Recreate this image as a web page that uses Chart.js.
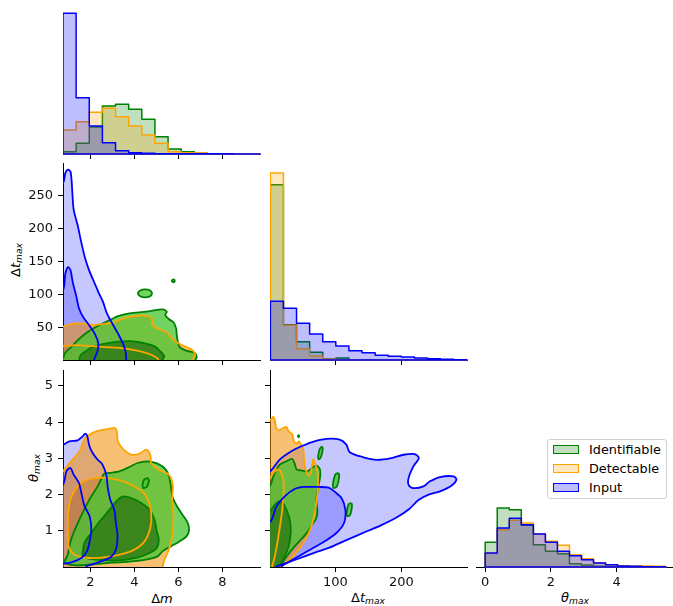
<!DOCTYPE html>
<html lang="en">
<head>
<meta charset="UTF-8">
<title>Corner plot</title>
<script src="https://cdn.jsdelivr.net/npm/chart.js"></script>
<style>
  html, body { margin: 0; padding: 0; background: #fff; }
  #fig { position: relative; width: 673px; height: 606px; overflow: hidden; font-family: 'DejaVu Sans', sans-serif; }
  #fig canvas { position: absolute; }
  .lbl { position: absolute; font-size: 13px; color: #000; white-space: nowrap; transform: translate(-50%, -50%); }
  .lbl.rot { transform: translate(-50%, -50%) rotate(-90deg); }
  .lbl sub { font-size: 70%; vertical-align: -0.3em; }
  #legend { position: absolute; left: 547px; top: 439px; width: 120px; height: 60px; box-sizing: border-box;
            border: 1px solid #d0d0d0; border-radius: 3px; background: rgba(255,255,255,0.8); font-size: 12.8px; }
  #legend .row { position: absolute; left: 0; height: 16px; line-height: 16px; }
  #legend .patch { position: absolute; left: 5px; top: 3px; width: 26px; height: 9px; box-sizing: border-box; border: 1.5px solid; }
  #legend .txt { position: absolute; left: 41px; top: 0; }
</style>
</head>
<body>
<div id="fig">
  <div class="lbl" style="left:162px; top:598px">Δ<i>m</i></div>
  <div class="lbl" style="left:368px; top:598px">Δ<i>t</i><sub><i>max</i></sub></div>
  <div class="lbl" style="left:575px; top:598px"><i>θ</i><sub><i>max</i></sub></div>
  <div class="lbl rot" style="left:16px; top:260px">Δ<i>t</i><sub><i>max</i></sub></div>
  <div class="lbl rot" style="left:34px; top:468px"><i>θ</i><sub><i>max</i></sub></div>
  <div id="legend"></div>
</div>

<script>
// ---- data ----
const seriesNames = ['Identifiable', 'Detectable', 'Input'];

// axis limits
const dmLimits = [0.757, 9.71];
const dtLimits = [1, 299.5];
const thetaLimits = [0, 5.44];
const thetaHistLimits = [-0.28, 5.72];

// tick values
const dmTicks = [2, 4, 6, 8];
const dtTicks = [50, 100, 150, 200, 250];
const dtXTicks = [100, 200];
const thetaTicks = [1, 2, 3, 4, 5];
const thetaHistTicks = [0, 2, 4];

// histogram bins: first edge, bin width (15 bins each)
const dmBins = [0.757, 0.5969];
const dtBins = [1.5, 19.85];
const thetaBins = [0, 0.3667];

// histogram heights (shared diagonal y scale)
const dmHistIdentifiable = [2.3, 10.7, 27, 48, 49.7, 44.7, 34.7, 17.3, 5, 2.3, 0.7, 0.2, 0, 0, 0];
const dmHistDetectable   = [24, 32.3, 41.7, 45.7, 37.3, 28, 19, 10.7, 2.3, 1.3, 1, 0.3, 0, 0, 0];
const dmHistInput        = [140.7, 56.3, 28, 11.3, 3.3, 1.3, 0.7, 0.3, 0.3, 0.3, 0.2, 0.2, 0.2, 0.1, 0.1];

const dtHistIdentifiable = [175.3, 35.3, 18.3, 7.7, 1.3, 2, 0.3, 0.2, 0, 0, 0, 0, 0, 0, 0];
const dtHistDetectable   = [187, 34.7, 11.3, 4, 1, 0.3, 0.3, 0.1, 0, 0, 0, 0, 0, 0, 0];
const dtHistInput        = [58.7, 51.7, 36.7, 26, 18.3, 14, 9.3, 7.3, 4.7, 3.7, 3, 2, 1.3, 0.7, 0.3];

const thetaHistIdentifiable = [24.7, 59, 57.3, 41.7, 22.3, 15.7, 13.3, 3.3, 2, 0.7, 0.3, 0, 0, 0, 0];
const thetaHistDetectable   = [14, 37.3, 46.7, 44, 33.3, 25.7, 21.7, 12.3, 8.3, 4.3, 2.3, 1.3, 1, 1, 0.7];
const thetaHistInput        = [14, 39, 48.7, 42.3, 33, 24.7, 15.7, 11.3, 7.3, 4, 2.3, 1, 0.7, 0.3, 0.3];

// KDE contours, Δm vs Δt_max
const dmDtInputOuter = [[0.4,-30],[0.4,269],[0.757,269.3],[0.866,284.5],[0.984,289.6],[1.106,285.5],[1.183,254.1],[1.242,228.8],[1.437,203.4],[1.546,185.7],[1.741,157.8],[1.936,137.6],[2.195,117.3],[2.39,102.1],[2.571,89.4],[2.752,71.7],[2.997,56.5],[3.251,41.3],[3.478,26.1],[3.601,13.4],[3.632,1],[3.64,-30],[0.4,-30]];
const dmDtInputInner = [[0.4,-30],[0.4,107],[0.757,107.2],[0.866,132.5],[0.984,141.7],[1.093,137.6],[1.21,117.3],[1.365,97],[1.483,79.3],[1.664,66.6],[1.936,54],[2.195,41.3],[2.362,26.1],[2.317,13.4],[2.172,1],[2.16,-30],[0.4,-30]];
const dmDtDetectableOuter = [[0.4,-30],[0.4,51],[0.757,51.5],[1.047,55],[1.501,56.5],[2.104,54],[2.558,55.5],[3.011,57.5],[3.387,62.6],[3.841,66.6],[4.371,68.1],[4.702,66.6],[4.825,61.6],[4.793,55.5],[5.052,48.9],[5.505,42.3],[5.7,33.7],[5.882,28.6],[6.263,22],[6.639,16],[6.762,8.4],[6.639,1],[6.6,-30],[0.4,-30]];
const dmDtDetectableInner = [[0.4,-30],[0.4,22],[0.757,22],[1.347,23.6],[2.104,22],[2.707,20.5],[3.387,19],[3.995,16],[4.521,11.9],[4.902,6.8],[5.097,1],[5.1,-30],[0.4,-30]];
const dmDtIdentifiableOuter = [[0.4,-30],[0.4,3],[0.757,3.3],[0.834,10.9],[1.138,21],[1.514,33.7],[1.891,43.8],[2.421,54],[2.952,62.6],[3.251,67.6],[3.782,71.7],[4.539,74.2],[5.292,77.8],[5.474,74.2],[5.401,69.2],[5.564,63.1],[5.777,58.1],[5.9,48.9],[5.927,38.8],[6.049,21],[6.381,14.9],[6.73,11.9],[6.834,5.8],[6.775,1],[6.77,-30],[0.4,-30]];
const dmDtIdentifiableInner = [[1.48,-30],[1.501,1.8],[1.573,8.4],[1.8,14.4],[2.027,19.5],[2.557,25.1],[3.161,28.6],[3.841,29.6],[4.372,27.1],[4.902,22],[5.201,13.4],[5.356,6.8],[5.278,1],[5.25,-30],[1.48,-30]];
const dmDtIdentifiableIsland1 = [[4.82,102],[4.72,106.3],[4.49,108.1],[4.26,106.3],[4.16,102],[4.26,97.7],[4.49,95.9],[4.72,97.7],[4.82,102]];
const dmDtIdentifiableIsland2 = [[5.86,121],[5.78,123.2],[5.7,121],[5.78,118.8],[5.86,121]];

// KDE contours, Δm vs θ_max
const dmThetaInputOuter = [[0.4,-0.5],[0.4,3.38],[0.757,3.38],[1.045,3.471],[1.423,3.498],[1.65,3.609],[1.771,3.682],[1.862,3.609],[1.953,3.351],[2.104,3.148],[2.33,2.964],[2.527,2.853],[2.663,2.668],[2.739,2.503],[2.784,2.227],[2.905,1.859],[3.087,1.583],[3.161,1.215],[3.237,0.846],[3.161,0.478],[2.935,0.276],[2.481,0.155],[2.028,0.064],[1.801,0],[1.75,-0.5],[0.4,-0.5]];
const dmThetaInputInner = [[0.4,-0.5],[0.4,2.27],[0.757,2.273],[0.911,2.641],[1.093,2.735],[1.242,2.55],[1.483,2.32],[1.591,2.044],[1.741,1.674],[1.967,1.398],[2.045,1.03],[1.967,0.707],[1.846,0.431],[1.591,0.249],[1.138,0.127],[0.757,0.091],[0.4,0.09],[0.4,-0.5]];
const dmThetaDetectableOuter = [[0.4,-0.5],[0.4,2.62],[0.757,2.65],[0.821,2.688],[1.12,2.917],[1.501,3.193],[1.773,3.564],[2.272,3.746],[2.875,3.82],[3.102,3.84],[3.206,3.746],[3.251,3.47],[3.51,3.24],[3.859,3.102],[4.235,3.13],[4.539,3.24],[4.721,3.102],[4.766,2.873],[5.111,2.688],[5.564,2.55],[5.746,2.273],[5.718,1.859],[5.777,1.398],[5.718,0.845],[5.564,0.478],[5.369,0.202],[5.292,0],[5.28,-0.5],[0.4,-0.5]];
const dmThetaDetectableInner = [[0.984,0.754],[0.984,1.398],[1.093,1.859],[1.483,2.273],[2.045,2.439],[2.725,2.459],[3.406,2.384],[3.932,2.246],[4.358,2.088],[4.612,1.859],[4.766,1.492],[4.721,1.077],[4.462,0.707],[3.932,0.459],[2.952,0.293],[1.968,0.249],[1.288,0.34],[1.029,0.525],[0.984,0.754]];
const dmThetaIdentifiableOuter = [[0.819,0.156],[0.97,0.34],[1.121,0.754],[1.499,1.307],[1.953,1.859],[2.331,2.227],[2.633,2.577],[2.86,2.596],[3.313,2.642],[3.767,2.761],[4.145,2.872],[4.599,2.918],[5.052,2.854],[5.43,2.688],[5.581,2.485],[5.657,2.246],[5.733,1.933],[5.959,1.657],[6.186,1.445],[6.413,1.233],[6.489,1.03],[6.368,0.846],[6.035,0.699],[5.657,0.57],[5.279,0.432],[5.052,0.294],[4.523,0.202],[3.767,0.146],[3.011,0.119],[2.255,0.082],[1.348,0.045],[0.894,0.091],[0.819,0.156]];
const dmThetaIdentifiableInner = [[1.637,0.34],[1.741,0.68],[2.045,0.939],[2.344,1.196],[2.875,1.583],[3.251,1.859],[3.51,1.95],[3.859,1.906],[4.312,1.768],[4.689,1.583],[4.916,1.307],[5.02,0.983],[5.111,0.754],[5.02,0.525],[4.689,0.387],[4.086,0.249],[3.179,0.174],[2.272,0.202],[1.818,0.249],[1.637,0.34]];
const dmThetaIdentifiableIsland = [[4.62,2.46],[4.66,2.38],[4.57,2.22],[4.42,2.18],[4.37,2.26],[4.45,2.42],[4.62,2.46]];

// KDE contours, Δt_max vs θ_max
const dtThetaInputOuter = [[-10,-0.5],[-10,2.64],[1,2.64],[15.7,2.965],[33.4,3.195],[48.5,3.333],[63.7,3.444],[86.4,3.536],[106.6,3.517],[116.7,3.379],[121.8,3.167],[142.5,3.03],[162.7,2.96],[182.9,3.0],[203.1,3.1],[220,3.12],[226.5,3.01],[218.3,2.78],[211,2.46],[211,2.27],[218.3,2.18],[233.4,2.227],[243.5,2.366],[258.7,2.485],[278.9,2.504],[283.5,2.412],[276.3,2.25],[258.7,2.089],[241.4,2.0],[226,1.85],[212,1.6],[194,1.38],[169,1.15],[149.5,1.0],[114,0.72],[92,0.54],[74,0.43],[39.4,0.2],[16.7,0.05],[10.2,0],[8,-0.5],[-10,-0.5]];
const dtThetaInputInner = [[-10,-0.5],[-10,1.25],[2.07,1.261],[10.7,1.675],[23.3,1.952],[38.4,2.154],[53.6,2.21],[73.8,2.21],[89.9,2.191],[99,2.08],[109.5,1.9],[115.2,1.583],[113.2,1.215],[101.6,0.939],[83.9,0.709],[63.7,0.497],[46,0.313],[28.3,0.129],[18.2,0],[16,-0.5],[-10,-0.5]];
const dtThetaDetectableOuter = [[-10,-0.5],[-10,4.05],[1,4.07],[3.08,4.088],[5.6,4.143],[8.1,4.07],[10.7,3.839],[14.7,3.775],[20.8,3.839],[25.8,3.867],[29.3,3.747],[34.4,3.674],[37.4,3.471],[40.9,3.407],[44.5,3.471],[48.5,3.379],[51.6,3.241],[52.6,2.965],[54.6,2.734],[58.6,2.523],[62.7,2.578],[64.7,2.826],[66.7,2.983],[69.2,2.854],[72.8,2.642],[73.8,2.228],[71.8,1.86],[68.7,1.491],[63.7,1.123],[54.6,0.755],[43.5,0.46],[33.4,0.248],[23.3,0.083],[17.2,0],[16,-0.5],[-10,-0.5]];
const dtThetaDetectableInner = [[-10,-0.5],[-10,2.45],[1,2.46],[2.1,2.486],[8.1,2.642],[14.2,2.688],[19.2,2.55],[21.8,2.32],[21.3,1.952],[19.2,1.537],[15.7,1.077],[11.7,0.617],[7.1,0.202],[4.1,0],[3.5,-0.5],[-10,-0.5]];
const dtThetaIdentifiableOuter = [[-10,-0.5],[-10,2.2],[1,2.25],[7.1,2.55],[15.7,2.826],[25.8,2.919],[34.4,2.983],[38.4,2.854],[41.5,2.688],[48.5,2.67],[57.6,2.642],[64.7,2.734],[71.3,2.799],[76.8,2.688],[76.8,2.458],[73.8,2.182],[71.3,1.86],[72.8,1.537],[71.3,1.353],[64.7,1.169],[57.6,0.957],[48.5,0.773],[38.4,0.571],[29.3,0.368],[22.3,0.184],[17.2,0.018],[16,-0.5],[-10,-0.5]];
const dtThetaIdentifiableInner = [[-10,-0.5],[-10,1.55],[1,1.55],[7.1,1.694],[14.2,1.814],[20.8,1.768],[25.8,1.583],[30.9,1.307],[32.4,0.939],[29.3,0.57],[23.3,0.294],[17.2,0.092],[13.2,0],[12,-0.5],[-10,-0.5]];
const dtThetaIdentifiableIsland1 = [[79.5,3.33],[81,3.28],[78.5,3.05],[75.2,2.97],[73.8,3.02],[76.2,3.25],[79.5,3.33]];
const dtThetaIdentifiableIsland2 = [[104.5,2.6],[106,2.52],[102.5,2.23],[97.8,2.18],[96.2,2.26],[99.8,2.55],[104.5,2.6]];
const dtThetaIdentifiableIsland3 = [[124.2,1.77],[125.3,1.7],[122.5,1.44],[118.3,1.4],[117.1,1.47],[119.9,1.73],[124.2,1.77]];
const dtThetaIdentifiableDot = [[45.6,3.61],[44.5,3.64],[43.4,3.61],[44.5,3.58],[45.6,3.61]];

// ---- styles ----
Chart.defaults.font.family = "'DejaVu Sans', sans-serif";
Chart.defaults.font.size = 13;

const lineColor = { Identifiable: '#008000', Detectable: '#ffa500', Input: '#0000ff' };
const histFill = { Identifiable: 'rgba(0,128,0,0.25)', Detectable: 'rgba(255,165,0,0.25)', Input: 'rgba(0,0,255,0.25)' };
const kdeFill = {
  Identifiable: ['rgba(68,198,48,0.75)', 'rgba(42,116,20,0.75)'],
  Detectable: ['rgba(240,140,0,0.55)', 'rgba(170,90,10,0.3)'],
  Input: ['rgba(0,0,255,0.22)', 'rgba(0,0,255,0.22)']
};

const pts = arr => arr.map(([x, y]) => ({ x, y }));

function histPoints(bins, heights) {
  const [start, w] = bins;
  const n = heights.length;
  const p = [{ x: start, y: 0 }];
  heights.forEach((h, i) => p.push({ x: start + i * w, y: h }));
  p.push({ x: start + n * w, y: heights[n - 1] });
  p.push({ x: start + n * w, y: 0 });
  p.push({ x: start, y: 0 });
  return p;
}

function fillLayer(data, color, stepped) {
  return { data, fill: 'shape', backgroundColor: color, borderColor: 'rgba(0,0,0,0)', borderWidth: 0,
           tension: stepped ? 0 : 0.3, stepped: !!stepped, clip: stepped ? false : 0, pointRadius: 0 };
}
function edgeLayer(data, color, width, stepped) {
  return { data, fill: false, borderColor: color, borderWidth: width, borderJoinStyle: 'round',
           tension: stepped ? 0 : 0.3, stepped: !!stepped, clip: stepped ? false : 0, pointRadius: 0 };
}

function histLayers(bins, hists) {
  const layers = [];
  seriesNames.forEach((name, i) => {
    const p = histPoints(bins, hists[i]);
    layers.push(fillLayer(p, histFill[name], true));
    layers.push(edgeLayer(p, lineColor[name], 1.5, true));
  });
  return layers;
}

// contours: {name: [outer shapes, inner shapes]}
function kdeLayers(contours) {
  const layers = [];
  ['Input', 'Detectable', 'Identifiable'].forEach(name => {
    contours[name][0].forEach(c => layers.push(fillLayer(pts(c), kdeFill[name][0])));
    contours[name][1].forEach(c => layers.push(fillLayer(pts(c), kdeFill[name][1])));
  });
  seriesNames.forEach(name => {
    contours[name][0].concat(contours[name][1]).forEach(c => layers.push(edgeLayer(pts(c), lineColor[name], 1.8)));
  });
  return layers;
}

function makePanel(p) {
  const pt = 15, pr = 15;
  const canvas = document.createElement('canvas');
  const w = p.area.w + p.ml + pr, h = p.area.h + pt + p.mb;
  canvas.width = w; canvas.height = h;
  canvas.style.left = (p.area.l - p.ml) + 'px';
  canvas.style.top = (p.area.t - pt) + 'px';
  document.getElementById('fig').appendChild(canvas);

  const axis = (a, size, isX) => ({
    type: 'linear',
    display: a.display !== false,
    min: a.limits[0], max: a.limits[1],
    border: { display: true, color: '#000', width: 1 },
    grid: { display: true, drawOnChartArea: false, drawTicks: true, tickLength: 5, tickColor: '#000', tickWidth: 1 },
    ticks: { display: !!a.labels, padding: isX ? 3 : 5, color: '#111', maxRotation: 0, autoSkip: false },
    afterBuildTicks: s => { s.ticks = (a.ticks || []).map(v => ({ value: v })); },
    afterFit: s => {
      if (isX) s.height = size; else s.width = size;
      s.paddingLeft = s.paddingRight = s.paddingTop = s.paddingBottom = 0;
    }
  });

  return new Chart(canvas, {
    type: 'line',
    data: { datasets: p.layers.slice().reverse() },
    options: {
      responsive: false, animation: false, events: [],
      layout: { autoPadding: false, padding: { top: pt, right: pr, left: 0, bottom: p.x.display === false ? p.mb : 0 } },
      plugins: { legend: { display: false }, tooltip: { enabled: false } },
      elements: { point: { radius: 0 }, line: { capBezierPoints: false } },
      scales: { x: axis(p.x, p.mb, true), y: axis(p.y, p.ml, false) }
    }
  });
}

// diagonal: Δm
makePanel({ area: { l: 63, t: 10, w: 197, h: 144 }, ml: 0, mb: 8,
  x: { limits: dmLimits, ticks: dmTicks }, y: { display: false, limits: [0, 144] },
  layers: histLayers(dmBins, [dmHistIdentifiable, dmHistDetectable, dmHistInput]) });

// Δm vs Δt_max
makePanel({ area: { l: 63, t: 163, w: 197, h: 197 }, ml: 63, mb: 8,
  x: { limits: dmLimits, ticks: dmTicks }, y: { limits: dtLimits, ticks: dtTicks, labels: true },
  layers: kdeLayers({
    Input: [[dmDtInputOuter], [dmDtInputInner]],
    Detectable: [[dmDtDetectableOuter], [dmDtDetectableInner]],
    Identifiable: [[dmDtIdentifiableOuter, dmDtIdentifiableIsland1, dmDtIdentifiableIsland2], [dmDtIdentifiableInner]]
  }) });

// diagonal: Δt_max
makePanel({ area: { l: 270, t: 163, w: 197, h: 197 }, ml: 0, mb: 8,
  x: { limits: dtLimits, ticks: dtXTicks }, y: { display: false, limits: [0, 197] },
  layers: histLayers(dtBins, [dtHistIdentifiable, dtHistDetectable, dtHistInput]) });

// Δm vs θ_max
makePanel({ area: { l: 63, t: 370, w: 197, h: 197 }, ml: 63, mb: 22,
  x: { limits: dmLimits, ticks: dmTicks, labels: true }, y: { limits: thetaLimits, ticks: thetaTicks, labels: true },
  layers: kdeLayers({
    Input: [[dmThetaInputOuter], [dmThetaInputInner]],
    Detectable: [[dmThetaDetectableOuter], [dmThetaDetectableInner]],
    Identifiable: [[dmThetaIdentifiableOuter, dmThetaIdentifiableIsland], [dmThetaIdentifiableInner]]
  }) });

// Δt_max vs θ_max
makePanel({ area: { l: 270, t: 370, w: 197, h: 197 }, ml: 8, mb: 22,
  x: { limits: dtLimits, ticks: dtXTicks, labels: true }, y: { limits: thetaLimits, ticks: thetaTicks },
  layers: kdeLayers({
    Input: [[dtThetaInputOuter], [dtThetaInputInner]],
    Detectable: [[dtThetaDetectableOuter], [dtThetaDetectableInner]],
    Identifiable: [[dtThetaIdentifiableOuter, dtThetaIdentifiableIsland1, dtThetaIdentifiableIsland2, dtThetaIdentifiableIsland3, dtThetaIdentifiableDot], [dtThetaIdentifiableInner]]
  }) });

// diagonal: θ_max
makePanel({ area: { l: 476, t: 370, w: 197, h: 197 }, ml: 0, mb: 22,
  x: { limits: thetaHistLimits, ticks: thetaHistTicks, labels: true }, y: { display: false, limits: [0, 197] },
  layers: histLayers(thetaBins, [thetaHistIdentifiable, thetaHistDetectable, thetaHistInput]) });

// legend
const legend = document.getElementById('legend');
seriesNames.forEach((name, i) => {
  const row = document.createElement('div');
  row.className = 'row';
  row.style.top = (2 + i * 19) + 'px';
  row.style.width = '100%';
  const patch = document.createElement('span');
  patch.className = 'patch';
  patch.style.background = histFill[name];
  patch.style.borderColor = lineColor[name];
  const txt = document.createElement('span');
  txt.className = 'txt';
  txt.textContent = name;
  row.appendChild(patch); row.appendChild(txt);
  legend.appendChild(row);
});
</script>
</body>
</html>
